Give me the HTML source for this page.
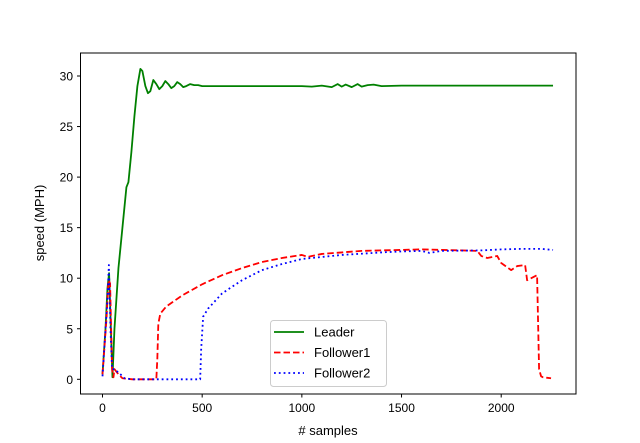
<!DOCTYPE html>
<html><head><meta charset="utf-8"><style>
html,body{margin:0;padding:0;background:#fff;}
svg{display:block;font-family:"Liberation Sans","DejaVu Sans",sans-serif;}
</style></head><body>
<svg id="chart" width="640" height="443" viewBox="0 0 640 443">
<rect x="0" y="0" width="640" height="443" fill="#fff"/>
<g id="series"></g>
<rect x="80.5" y="53" width="495.5" height="341" fill="none" stroke="#000" stroke-width="1"/>
<g id="ticks" font-size="12" fill="#000"></g>
<text x="328" y="435" font-size="13" text-anchor="middle"># samples</text>
<text transform="translate(44,223) rotate(-90)" font-size="13" text-anchor="middle">speed (MPH)</text>
<g>
<rect x="270.5" y="320.5" width="116" height="66" rx="3" fill="#fff" fill-opacity="0.8" stroke="#ccc"/>
<line x1="274" y1="332" x2="304" y2="332" stroke="#008000" stroke-width="1.8"/>
<text x="314" y="336.5" font-size="13">Leader</text>
<line x1="274" y1="352.5" x2="304" y2="352.5" stroke="#ff0000" stroke-width="1.8" stroke-dasharray="6.5,3"/>
<text x="314" y="357" font-size="13">Follower1</text>
<line x1="274" y1="373" x2="304" y2="373" stroke="#0000ff" stroke-width="1.8" stroke-dasharray="1.8,3"/>
<text x="314" y="377.5" font-size="13">Follower2</text>
</g>
</svg>
<script>
const xTicks = [0, 500, 1000, 1500, 2000];
const yTicks = [0, 5, 10, 15, 20, 25, 30];
const leaderX = [0,15,25,33,42,50,60,80,100,120,130,145,160,175,190,200,215,228,240,255,270,285,300,315,330,345,360,375,390,405,420,440,460,480,500,1000,1050,1100,1150,1180,1200,1220,1250,1280,1300,1330,1360,1400,1500,2260];
const leaderY = [0.5,5,9,10.5,5,0.2,5,11,15,19,19.5,22.5,26,29,30.7,30.5,29,28.3,28.5,29.6,29.2,28.7,29,29.5,29.2,28.8,29,29.4,29.2,28.9,29,29.2,29.1,29.1,29,29,28.95,29.05,28.9,29.2,28.95,29.15,28.9,29.2,28.95,29.1,29.15,29,29.05,29.05];
const f1X = [0,20,30,38,48,55,60,80,100,150,270,275,280,290,320,400,500,600,700,800,900,1000,1030,1050,1100,1200,1300,1400,1500,1600,1700,1800,1880,1900,1930,1980,2000,2050,2080,2120,2130,2180,2190,2200,2210,2250];
const f1Y = [0.5,6,9.8,9.5,1,0.2,1,0.5,0.1,0,0,2,5.5,6.5,7.2,8.3,9.4,10.3,11,11.6,12,12.3,12.1,12.2,12.4,12.55,12.7,12.75,12.8,12.85,12.8,12.75,12.7,12.2,12.0,12.2,11.5,10.8,11.2,11.3,9.8,10.3,1,0.3,0.2,0.1];
const f2X = [0,25,32,40,48,60,90,110,150,490,495,505,530,600,700,800,900,1000,1200,1400,1500,1600,1640,1700,1900,2000,2100,2200,2260];
const f2Y = [0.3,8,11.3,5,1,1,0.5,0.1,0,0,3,6.2,7,8.5,9.8,10.8,11.4,11.9,12.3,12.55,12.65,12.7,12.5,12.7,12.75,12.85,12.9,12.9,12.8];

const NS = "http://www.w3.org/2000/svg";
function sx(v){ return 102.5 + v * 0.19935; }
function sy(v){ return 379.3 - v * 10.11; }

const seriesG = document.getElementById('series');
function drawLine(xs, ys, color, dash, name){
  const p = document.createElementNS(NS, 'path');
  let d = '';
  for (let i = 0; i < xs.length; i++) d += (i ? 'L' : 'M') + sx(xs[i]).toFixed(2) + ',' + sy(ys[i]).toFixed(2);
  p.setAttribute('d', d);
  p.setAttribute('fill', 'none');
  p.setAttribute('stroke', color);
  p.setAttribute('stroke-width', '1.8');
  p.setAttribute('stroke-linejoin', 'round');
  if (dash) p.setAttribute('stroke-dasharray', dash);
  
  
  seriesG.appendChild(p);
}
drawLine(leaderX, leaderY, '#008000', null, 'leader-line');
drawLine(f1X, f1Y, '#ff0000', '6.5,3', 'follower1-line');
drawLine(f2X, f2Y, '#0000ff', '1.8,3', 'follower2-line');

const tg = document.getElementById('ticks');
xTicks.forEach(t => {
  const x = sx(t);
  const l = document.createElementNS(NS, 'line');
  l.setAttribute('x1', x); l.setAttribute('x2', x); l.setAttribute('y1', 394); l.setAttribute('y2', 397.5);
  l.setAttribute('stroke', '#000');
  
  
  tg.appendChild(l);
  const tx = document.createElementNS(NS, 'text');
  tx.setAttribute('x', x); tx.setAttribute('y', 412); tx.setAttribute('text-anchor', 'middle');
  tx.textContent = t;
  
  
  tg.appendChild(tx);
});
yTicks.forEach(t => {
  const y = sy(t);
  const l = document.createElementNS(NS, 'line');
  l.setAttribute('x1', 77); l.setAttribute('x2', 80.5); l.setAttribute('y1', y); l.setAttribute('y2', y);
  l.setAttribute('stroke', '#000');
  
  
  tg.appendChild(l);
  const tx = document.createElementNS(NS, 'text');
  tx.setAttribute('x', 73); tx.setAttribute('y', y + 4.5); tx.setAttribute('text-anchor', 'end');
  tx.textContent = t;
  
  
  tg.appendChild(tx);
});
</script>
</body></html>
